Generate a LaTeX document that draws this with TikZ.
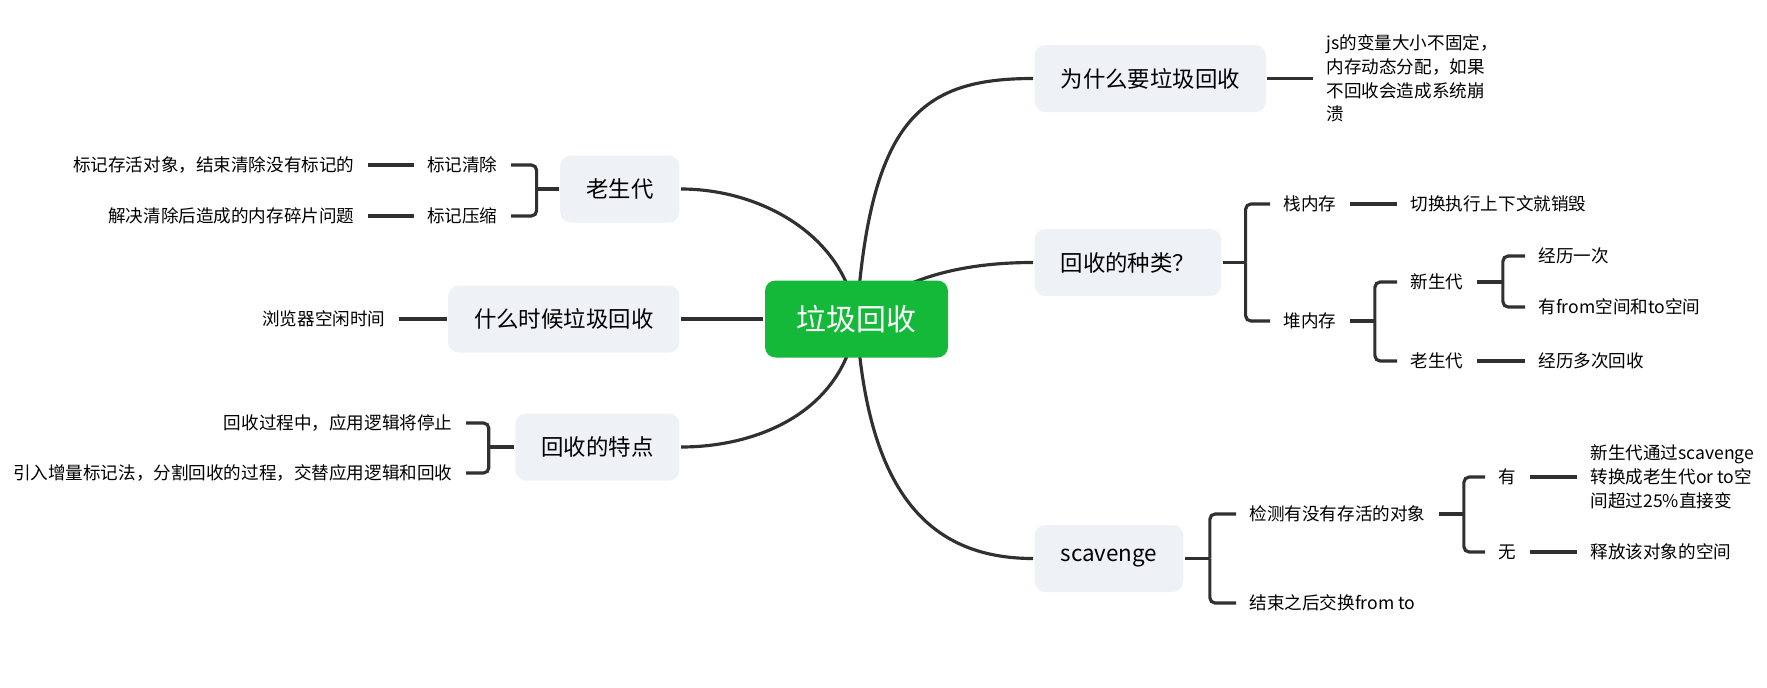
\documentclass[tikz,border=0pt]{standalone}
\usepackage{fontspec}
\setmainfont{Noto Sans CJK SC}
\usetikzlibrary{positioning,backgrounds}
\definecolor{rootgreen}{HTML}{14B93A}
\definecolor{topicfill}{HTML}{EEF1F5}
\definecolor{linkgray}{HTML}{303030}
\tikzset{every picture/.style={line width=1.8pt}}

\begin{document}
\begin{tikzpicture}[
    center_topic/.style={fill=rootgreen,text=white,rounded corners=6pt,minimum width=3.66cm,minimum height=1.54cm,font=\fontsize{17}{20}\selectfont},
    main_topic/.style={fill=topicfill,rounded corners=6pt,inner xsep=0.52cm,minimum height=1.34cm,font=\fontsize{12.75}{15}\selectfont},
    leaf/.style={inner xsep=0.24cm,inner ysep=2pt,font=\fontsize{10}{13.5}\selectfont,align=left},
    curve_link/.style={draw=linkgray,line width=1.8pt},
    bracket_link/.style={draw=linkgray,line width=1.8pt,rounded corners=3pt}
]
    \useasboundingbox (0,0) rectangle (35.34,-13.74);

    % Root
    \node[center_topic] (gc) at (17.13,-6.38) {垃圾回收};

    % Left topics
    \node[main_topic,anchor=east] (old) at (13.62,-3.78) {老生代};
    \node[main_topic,anchor=east] (when) at (13.62,-6.38) {什么时候垃圾回收};
    \node[main_topic,anchor=east] (feat) at (13.62,-8.94) {回收的特点};

    % Right topics
    \node[main_topic,anchor=west] (why) at (20.66,-1.57) {为什么要垃圾回收};
    \node[main_topic,anchor=west] (kinds) at (20.66,-5.25) {回收的种类？};
    \node[main_topic,anchor=west] (scav) at (20.66,-11.17) {scavenge};

    % Root links
    \begin{scope}[on background layer]
        \draw[curve_link] (gc.center) .. controls +(0.28,3.98) and +(-2.26,0) .. (why.west);
        \draw[curve_link] (gc.center) .. controls +(0.8,0.8) and +(-1.46,0) .. (kinds.west);
        \draw[curve_link] (gc.center) .. controls +(0.2,-3.22) and +(-2.26,0) .. (scav.west);
        \draw[curve_link] (gc.center) .. controls +(-0.22,1.68) and +(1.58,0) .. (old.east);
        \draw[curve_link] (gc.center) .. controls +(-0.22,-1.82) and +(1.58,0) .. (feat.east);
    \end{scope}
    \draw[curve_link] (gc.west) -- (when.east);

    % 老生代
    \node[leaf,anchor=east] (mark_sweep) at (10.22,-3.30) {标记清除};
    \node[leaf,anchor=east] (mark_compact) at (10.22,-4.32) {标记压缩};
    \node[leaf,anchor=east] (sweep_desc) at (7.36,-3.30) {标记存活对象，结束清除没有标记的};
    \node[leaf,anchor=east] (compact_desc) at (7.36,-4.32) {解决清除后造成的内存碎片问题};
    \coordinate (old_fork) at ([xshift=-0.44cm]old.west);
    \draw[bracket_link] (old.west) -- (old_fork);
    \draw[bracket_link] (old_fork) |- (mark_sweep.east);
    \draw[bracket_link] (old_fork) |- (mark_compact.east);
    \draw[bracket_link] (mark_sweep.west) -- (sweep_desc.east);
    \draw[bracket_link] (mark_compact.west) -- (compact_desc.east);

    % 什么时候垃圾回收
    \node[leaf,anchor=east] (idle) at (7.98,-6.38) {浏览器空闲时间};
    \draw[bracket_link] (when.west) -- (idle.east);

    % 回收的特点
    \node[leaf,anchor=east] (pause) at (9.32,-8.46) {回收过程中，应用逻辑将停止};
    \node[leaf,anchor=east] (incremental) at (9.32,-9.46) {引入增量标记法，分割回收的过程，交替应用逻辑和回收};
    \coordinate (feat_fork) at ([xshift=-0.5cm]feat.west);
    \draw[bracket_link] (feat.west) -- (feat_fork);
    \draw[bracket_link] (feat_fork) |- (pause.east);
    \draw[bracket_link] (feat_fork) |- (incremental.east);

    % 为什么要垃圾回收
    \node[leaf,anchor=west] (why_desc) at (26.26,-1.57) {js的变量大小不固定，\\内存动态分配，如果\\不回收会造成系统崩\\溃};
    \draw[bracket_link] (why.east) -- (why_desc.west);

    % 回收的种类
    \node[leaf,anchor=west] (stack) at (25.40,-4.08) {栈内存};
    \node[leaf,anchor=west] (stack_desc) at (27.94,-4.08) {切换执行上下文就销毁};
    \node[leaf,anchor=west] (heap) at (25.40,-6.42) {堆内存};
    \node[leaf,anchor=west] (young) at (27.94,-5.64) {新生代};
    \node[leaf,anchor=west] (tenured) at (27.94,-7.22) {老生代};
    \node[leaf,anchor=west] (once) at (30.50,-5.12) {经历一次};
    \node[leaf,anchor=west] (from_to) at (30.50,-6.14) {有from空间和to空间};
    \node[leaf,anchor=west] (many) at (30.50,-7.22) {经历多次回收};
    \coordinate (kinds_fork) at ([xshift=0.46cm]kinds.east);
    \draw[bracket_link] (kinds.east) -- (kinds_fork);
    \draw[bracket_link] (kinds_fork) |- (stack.west);
    \draw[bracket_link] (kinds_fork) |- (heap.west);
    \draw[bracket_link] (stack.east) -- (stack_desc.west);
    \coordinate (heap_fork) at ([xshift=0.5cm]heap.east);
    \draw[bracket_link] (heap.east) -- (heap_fork);
    \draw[bracket_link] (heap_fork) |- (young.west);
    \draw[bracket_link] (heap_fork) |- (tenured.west);
    \coordinate (young_fork) at ([xshift=0.52cm]young.east);
    \draw[bracket_link] (young.east) -- (young_fork);
    \draw[bracket_link] (young_fork) |- (once.west);
    \draw[bracket_link] (young_fork) |- (from_to.west);
    \draw[bracket_link] (tenured.east) -- (many.west);

    % scavenge
    \node[leaf,anchor=west] (detect) at (24.72,-10.28) {检测有没有存活的对象};
    \node[leaf,anchor=west] (swap) at (24.72,-12.06) {结束之后交换from to};
    \node[leaf,anchor=west] (alive) at (29.70,-9.54) {有};
    \node[leaf,anchor=west] (dead) at (29.70,-11.04) {无};
    \node[leaf,anchor=west] (alive_desc) at (31.54,-9.54) {新生代通过scavenge\\转换成老生代or to空\\间超过25\%直接变};
    \node[leaf,anchor=west] (dead_desc) at (31.54,-11.04) {释放该对象的空间};
    \coordinate (scav_fork) at ([xshift=0.5cm]scav.east);
    \draw[bracket_link] (scav.east) -- (scav_fork);
    \draw[bracket_link] (scav_fork) |- (detect.west);
    \draw[bracket_link] (scav_fork) |- (swap.west);
    \coordinate (detect_fork) at ([xshift=0.5cm]detect.east);
    \draw[bracket_link] (detect.east) -- (detect_fork);
    \draw[bracket_link] (detect_fork) |- (alive.west);
    \draw[bracket_link] (detect_fork) |- (dead.west);
    \draw[bracket_link] (alive.east) -- (alive_desc.west);
    \draw[bracket_link] (dead.east) -- (dead_desc.west);
\end{tikzpicture}
\end{document}
